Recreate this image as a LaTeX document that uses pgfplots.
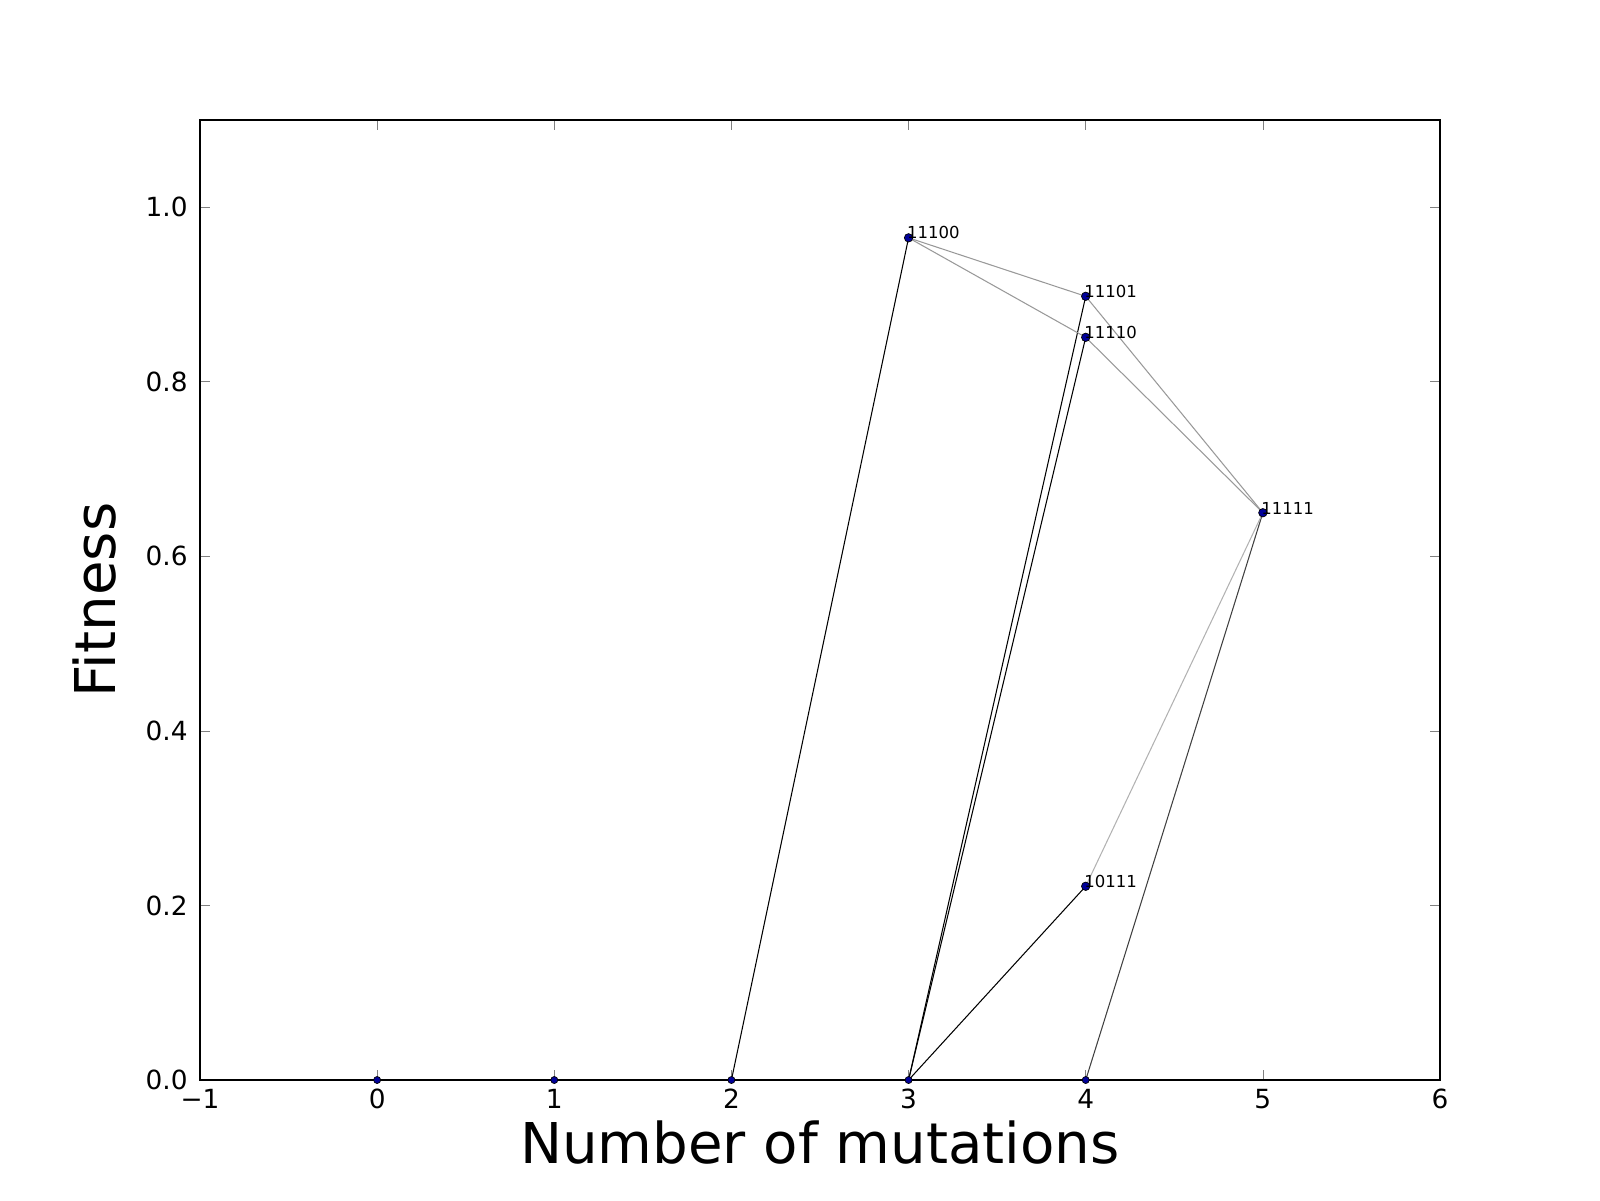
\documentclass[border=0pt]{standalone}
\usepackage{fontspec}
\setmainfont{DejaVu Sans}
\usepackage{pgfplots}
\pgfplotsset{compat=1.18}
\begin{document}
\begin{tikzpicture}
\path[use as bounding box] (-2,-1.2) rectangle (14,10.8);
\begin{axis}[at={(0,0)},anchor=south west,scale only axis,width=12.4cm,height=9.6cm,
 xmin=-1,xmax=6,ymin=0,ymax=1.1,
 xtick={-1,0,...,6},xticklabels={−1,0,1,2,3,4,5,6},ytick={0,0.2,...,1.0},
 yticklabel style={/pgf/number format/fixed,/pgf/number format/fixed zerofill,/pgf/number format/precision=1},
 /pgf/number format/assume math mode=true,
 tick align=inside,major tick length=0.1cm,
 tick label style={font=\fontsize{7.5}{9}\selectfont},
 xticklabel style={yshift=1pt},
 xlabel={Number of mutations},ylabel={Fitness},
 label style={font=\fontsize{16}{19}\selectfont},
 xlabel style={yshift=0.12cm},ylabel style={yshift=0.05cm},
 clip=false]
\addplot[black,line width=0.3pt] coordinates {(2,0)(3,0.965)};
\addplot[black,line width=0.3pt] coordinates {(3,0)(4,0.898)};
\addplot[black,line width=0.3pt] coordinates {(3,0)(4,0.851)};
\addplot[black,line width=0.3pt] coordinates {(3,0)(4,0.222)};
\addplot[black!75,line width=0.3pt] coordinates {(4,0)(5,0.65)};
\addplot[gray!80,line width=0.3pt] coordinates {(3,0.965)(4,0.898)};
\addplot[gray!80,line width=0.3pt] coordinates {(3,0.965)(4,0.851)};
\addplot[gray!80,line width=0.3pt] coordinates {(4,0.898)(5,0.65)};
\addplot[gray!80,line width=0.3pt] coordinates {(4,0.851)(5,0.65)};
\addplot[gray!60,line width=0.3pt] coordinates {(4,0.222)(5,0.65)};
\addplot[only marks,mark=*,mark size=1.2pt,mark options={fill=blue!60!black,draw=black,line width=0.2pt},
 nodes near coords,point meta=explicit symbolic,
 every node near coord/.append style={font=\fontsize{4.7}{6}\selectfont,anchor=south west,inner sep=0.5pt,xshift=-1pt,yshift=-1pt}]
 table[meta=l] {
x y l
3 0.965 11100
4 0.898 11101
4 0.851 11110
5 0.65 11111
4 0.222 10111
};
\addplot[only marks,mark=*,mark size=1.0pt,mark options={fill=blue!60!black,draw=black,line width=0.2pt}]
 coordinates {(0,0)(1,0)(2,0)(3,0)(4,0)};
\end{axis}
\end{tikzpicture}
\end{document}
